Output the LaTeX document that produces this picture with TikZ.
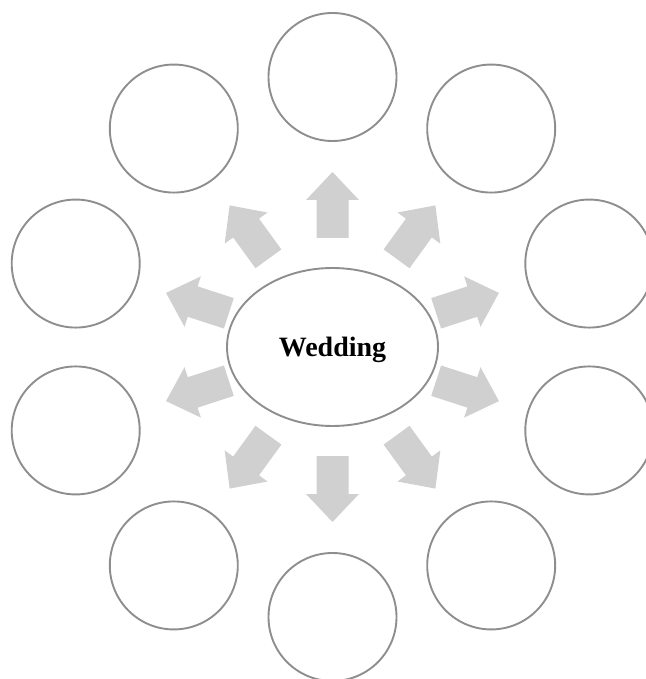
\documentclass[tikz,border=0pt]{standalone}
\usepackage{fontspec}
\setmainfont{Liberation Serif}
\usetikzlibrary{shapes.geometric}
\definecolor{ringgray}{HTML}{8E8E8E}
\definecolor{arrowgray}{HTML}{D0D0D0}
\tikzset{
    bubble/.style={circle, draw=ringgray, line width=1.9pt, minimum size=128pt, inner sep=0pt},
    hub/.style={ellipse, draw=ringgray, line width=1.9pt, minimum width=211pt, minimum height=158pt,
        text depth=0pt, font=\fontsize{28}{32}\selectfont\bfseries},
    blockarrow/.style={fill=arrowgray}
}

\begin{document}
\begin{tikzpicture}[x=1pt,y=1pt]
        \useasboundingbox (-332.5,-332) rectangle (312.5,347);
        \node[hub](W) at (0,0) {Wedding};
        % outer ring of empty bubbles
        \node[bubble](B1)  at (90:270)  {};
        \node[bubble](B2)  at (126:270) {};
        \node[bubble](B3)  at (162:270) {};
        \node[bubble](B4)  at (198:270) {};
        \node[bubble](B5)  at (234:270) {};
        \node[bubble](B6)  at (270:270) {};
        \node[bubble](B7)  at (306:270) {};
        \node[bubble](B8)  at (342:270) {};
        \node[bubble](B9)  at (18:270)  {};
        \node[bubble](B10) at (54:270)  {};
        % block arrows pointing out of the hub
        \foreach \a in {90,126,...,414}
            \fill[blockarrow, rotate=\a] (109,-16) -- (147,-16) -- (147,-26.5) -- (175,0)
                -- (147,26.5) -- (147,16) -- (109,16) -- cycle;
    \end{tikzpicture}
\end{document}
